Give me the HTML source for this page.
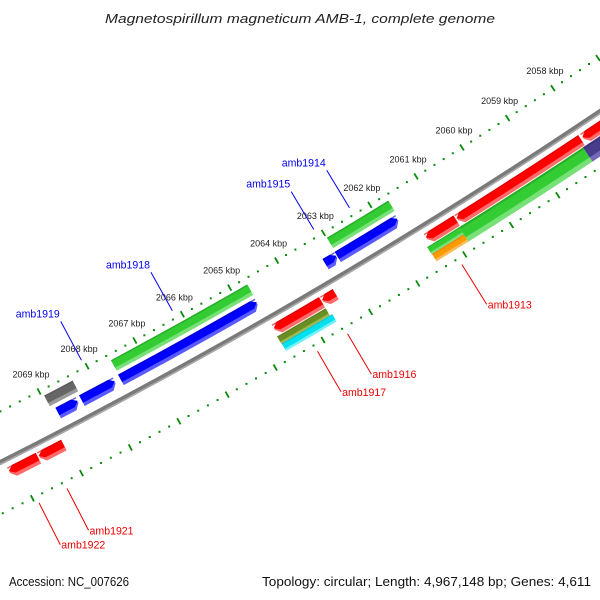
<!DOCTYPE html>
<html><head><meta charset="utf-8"><style>
html,body{margin:0;padding:0;background:#fff;}
svg{display:block;font-family:"Liberation Sans","DejaVu Sans",sans-serif;}
</style></head><body>
<svg id="map" width="600" height="600" viewBox="0 0 600 600" xmlns="http://www.w3.org/2000/svg">
<rect width="600" height="600" fill="#fff"/>
<text x="300" y="23" text-anchor="middle" font-size="13" font-style="italic" fill="#222" textLength="390" lengthAdjust="spacingAndGlyphs">Magnetospirillum magneticum AMB-1, complete genome</text>
<g id="ticks"></g>
<g id="backbone"></g>
<g id="genes"></g>
<g id="labels"></g>
<text x="9" y="586" font-size="12.5" fill="#111" textLength="120" lengthAdjust="spacingAndGlyphs">Accession: NC_007626</text>
<text x="591" y="586" text-anchor="end" font-size="12.5" fill="#111" textLength="329" lengthAdjust="spacingAndGlyphs">Topology: circular; Length: 4,967,148 bp; Genes: 4,611</text>
</svg>
<script>
// ---- data (kbp) ----
const tickLabels = [2069,2068,2067,2066,2065,2064,2063,2062,2061,2060,2059,2058];
const geneStart = [2068.95,2067.56,2062.99, 2068.87,2068.38,2067.57,2063.26,2063.00, 2070.16,2069.55,2064.67,2063.65,2061.44,2060.78,2058.05, 2064.69,2064.68,2061.51,2061.50,2060.82,2058.14];
const geneEnd   = [2068.36,2064.69,2061.67, 2068.45,2067.68,2064.70,2063.01,2061.70, 2069.57,2069.05,2063.67,2063.38,2060.80,2058.09,2056.50, 2063.67,2063.62,2060.82,2060.82,2058.14,2056.50];
const geneTrack = ['U1','U1','U1','U2','U2','U2','U2','U2','L1','L1','L1','L1','L1','L1','L1','L2a','L2b','L2a','L2b','L2','L2'];
const geneType  = ['gray','green','green','blue','blue','blue','blue','blue','red','red','red','red','red','red','red','olive','cyan','green','orange','green','purple'];
const labelNames = ['amb1919','amb1918','amb1915','amb1914','amb1913','amb1916','amb1917','amb1921','amb1922'];
const labelKbp   = [2068.04,2066.13,2063.12,2062.35,2061.14,2063.56,2064.19,2069.36,2069.93];
const labelSide  = ['up','up','up','up','down','down','down','down','down'];

// ---- geometry (axis functions) ----
const CX=-2517, CY=-4527, R0=5589, PHI0=62.54, DEG_PER_KBP=0.561, K0=2069;
function P(k, dr){ const a=(PHI0+(k-K0)*DEG_PER_KBP)*Math.PI/180; const r=R0+dr; return [CX+r*Math.cos(a), CY+r*Math.sin(a)]; }
const NS='http://www.w3.org/2000/svg';
function mk(tag, attrs, parent){ const e=document.createElementNS(NS,tag); for(const k in attrs) e.setAttribute(k,attrs[k]); parent.appendChild(e); return e; }
function f(p){return p[0].toFixed(2)+','+p[1].toFixed(2);}

const tracks={U1:[-40,-28],U2:[-24,-12],L1:[7,19],L2:[20,37],L2a:[20,28.5],L2b:[28.5,37]};
const colors={gray:['#666','#9a9a9a','#555'],green:['#33cc33','#77e077','#229922'],blue:['#0000ff','#5a5aff','#0000bb'],red:['#ff0000','#ff6a6a','#cc0000'],olive:['#6b8e23','#9ab850','#55701a'],cyan:['#00e0ee','#70f0f8','#00b0c0'],orange:['#ff9900','#ffbb55','#dd7700'],purple:['#483d8b','#7468b8','#382d70']};
const arrowDir={blue:'lo',red:'hi'};

// ticks
const tg=document.getElementById('ticks');
[-46,46].forEach((rr,ri)=>{
  for(let i=0;i<=75;i++){
    const k=2056+i*0.2;
    const major=Math.abs(k-Math.round(k))<1e-6;
    let el;
    if(major){ const a=P(k,rr-3.5), b=P(k,rr+3.5);
      el=mk('line',{x1:a[0],y1:a[1],x2:b[0],y2:b[1],stroke:'#0a8a0a','stroke-width':1.8},tg);
    } else { const c=P(k,rr);
      el=mk('rect',{x:c[0]-1,y:c[1]-1,width:2,height:2,fill:'#0a8a0a'},tg); }
    
    
  }
});
tickLabels.forEach(k=>{
  const c=P(k,-46);
  const t=mk('text',{x:c[0]-8,y:c[1]-14,'text-anchor':'middle','font-size':9,fill:'#222'},tg);
  t.textContent=k+' kbp';
  
  
});

// backbone
const bg=document.getElementById('backbone');
let d1='',d2='';
for(let k=2071.5;k>=2055.5;k-=0.5){ d1+=(d1?'L':'M')+f(P(k,-0.5)); d2+=(d2?'L':'M')+f(P(k,1.2)); }
const bb=mk('path',{d:d1,stroke:'#7a7a7a','stroke-width':5,fill:'none'},bg);


const bb2=mk('path',{d:d2,stroke:'#a8a8a8','stroke-width':1.6,fill:'none'},bg);



// genes
const gg=document.getElementById('genes');
function geneShape(k1,k2,r0,r1,dir){
  const H=0.1, rm=(r0+r1)/2;
  const n=6;
  const inner=[],outer=[];
  let s=k1, e=k2;
  if(dir==='hi') s=k1-H;
  if(dir==='lo') e=k2+H;
  for(let i=0;i<=n;i++){ const k=s+(e-s)*i/n; inner.push(P(k,r0)); outer.push(P(k,r1)); }
  const poly=[];
  if(dir==='hi') poly.push(P(k1,rm));
  inner.forEach(p=>poly.push(p));
  if(dir==='lo') poly.push(P(k2,rm));
  outer.slice().reverse().forEach(p=>poly.push(p));
  return poly.map(f).join(' ');
}
for(let i=0;i<geneStart.length;i++){
  const tr=tracks[geneTrack[i]], c=colors[geneType[i]], dir=arrowDir[geneType[i]];
  const k1=Math.max(geneStart[i],geneEnd[i]), k2=Math.min(geneStart[i],geneEnd[i]);
  const g=mk('g',{},gg);
  
  
  const r0=tr[0], r1=tr[1], h=r1-r0;
  mk('polygon',{points:geneShape(k1,k2,r0,r1,dir),fill:c[1]},g);
  mk('polygon',{points:geneShape(k1,k2,r0,r1-h*0.3,dir),fill:c[0]},g);
  mk('polygon',{points:geneShape(k1,k2,r0,r0+h*0.12,null),fill:c[2],opacity:0.6},g);
}

// labels
const lg=document.getElementById('labels');
labelNames.forEach((name,i)=>{
  const up=labelSide[i]==='up';
  const col=up?'#0000ee':'#ee0000';
  const a=up?P(labelKbp[i],-54):P(labelKbp[i],53);
  const b=up?P(labelKbp[i],-98):P(labelKbp[i],100);
  const ln=mk('line',{x1:a[0],y1:a[1],x2:b[0],y2:b[1],stroke:col,'stroke-width':1},lg);
  
  
  const t=up? mk('text',{x:b[0]-1,y:b[1]-4,'text-anchor':'end','font-size':11,fill:col,textLength:44,lengthAdjust:'spacingAndGlyphs'},lg)
            : mk('text',{x:b[0]+1,y:b[1]+4,'text-anchor':'start','font-size':11,fill:col,textLength:44,lengthAdjust:'spacingAndGlyphs'},lg);
  t.textContent=name;
  
  
});
</script>
</body></html>
